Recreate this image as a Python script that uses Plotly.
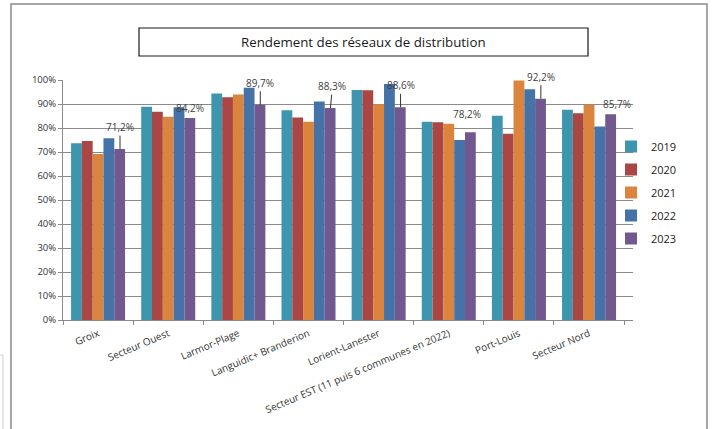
import plotly.graph_objects as go

categories = ["Groix", "Secteur Ouest", "Larmor-Plage", "Languidic+ Branderion",
              "Lorient-Lanester", "Secteur EST (11 puis 6 communes en 2022)",
              "Port-Louis", "Secteur Nord"]
years = ["2019", "2020", "2021", "2022", "2023"]
v2019 = [73.6, 88.9, 94.4, 87.4, 95.8, 82.6, 85.1, 87.6]
v2020 = [74.6, 86.8, 92.8, 84.4, 95.7, 82.4, 77.6, 86.1]
v2021 = [69.2, 84.7, 94.0, 82.6, 89.9, 81.8, 99.8, 89.7]
v2022 = [75.7, 88.6, 96.8, 91.0, 98.3, 75.0, 96.1, 80.6]
v2023 = [71.2, 84.2, 89.7, 88.3, 88.6, 78.2, 92.2, 85.7]
label_text = ["71,2%", "84,2%", "89,7%", "88,3%", "88,6%", "78,2%", "92,2%", "85,7%"]

series = [v2019, v2020, v2021, v2022, v2023]
colors = ["#3D96AE", "#AA4643", "#DB843D", "#4572A7", "#71588F"]

FONT = "Open Sans"

fig = go.Figure()
for name, vals, col in zip(years, series, colors):
    fig.add_trace(go.Bar(x=categories, y=vals, name=name, marker_color=col,
                         marker_line_width=0, legendgroup=name))

# plot area geometry (pixels)
L, R, T, B = 63, 81, 80, 109
W = 714 - L - R
H = 429 - T - B
def px(xp):
    return (xp - L) / W
def py(yp):
    return (429 - B - yp) / H

# label offsets (style) for 2023 values
leader = [22, 10, 22, 22, 22, 18, 22, 10]
shiftx = [0, 0, 0, 2, 0, -4, 0, 6]
arrows = [True, False, True, True, True, False, True, False]
cat_px = W / len(categories)
bar_shift = 2 * cat_px * (1 - 0.23) / 5
for c, v, t, ld, sx, ar in zip(categories, v2023, label_text, leader, shiftx, arrows):
    fig.add_annotation(x=c, y=v, text=t, xshift=bar_shift, showarrow=True,
                       arrowhead=0, arrowwidth=1, arrowcolor="#333" if ar else "rgba(0,0,0,0)",
                       ax=sx, ay=-ld, font=dict(family=FONT, size=10, color="#404040"))

fig.add_annotation(x=0.5, xref="paper", y=py(42), yref="paper",
                   text="Rendement des réseaux de distribution", showarrow=False,
                   xanchor="center", yanchor="middle", xshift=(363 - (L + W / 2)),
                   font=dict(family=FONT, size=13.3, color="#1a1a1a"))

shapes = [
    dict(type="rect", xref="paper", yref="paper", x0=px(11), x1=px(707), y0=py(445), y1=py(4),
         line=dict(color="#8a8a8a", width=1.5), layer="below"),
    dict(type="rect", xref="paper", yref="paper", x0=px(139), x1=px(588), y0=py(56), y1=py(28),
         line=dict(color="#1a1a1a", width=1.2)),
    dict(type="rect", xref="paper", yref="paper", x0=px(-10), x1=px(3), y0=py(445), y1=py(355),
         line=dict(color="#cfcfcf", width=1)),
]

fig.update_layout(
    width=714, height=429,
    margin=dict(l=L, r=R, t=T, b=B, autoexpand=False),
    paper_bgcolor="white", plot_bgcolor="white",
    barmode="group", bargap=0.23, bargroupgap=0,
    font=dict(family=FONT, size=10, color="#333"),
    shapes=shapes,
    showlegend=True,
    legend=dict(x=px(611), y=py(132), xanchor="left", yanchor="top",
                font=dict(family=FONT, size=11, color="#222"),
                tracegroupgap=4, itemwidth=30, bgcolor="rgba(0,0,0,0)"),
)
fig.update_xaxes(type="category", showgrid=False, showline=True, linecolor="#8a8a8a",
                 ticks="outside", tickson="boundaries", ticklen=4, tickcolor="#8a8a8a",
                 tickangle=-23, ticklabelstandoff=3,
                 tickfont=dict(family=FONT, size=10, color="#333"))
fig.update_yaxes(range=[0, 100], dtick=10, ticksuffix="%", showgrid=True,
                 gridcolor="#8a8a8a", gridwidth=1, showline=True, linecolor="#8a8a8a",
                 ticks="outside", ticklen=4, tickcolor="#8a8a8a", zeroline=False,
                 tickfont=dict(family=FONT, size=9.5, color="#333"))

fig.write_html("out.html", config={"displayModeBar": False},
               post_script="document.body.style.margin='0';document.body.style.overflow='hidden';")
